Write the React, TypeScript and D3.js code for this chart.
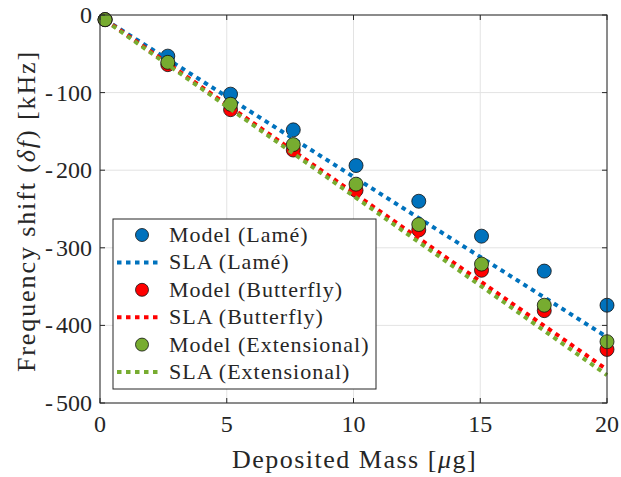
import React from "react";
import * as d3 from "d3";

// deposited mass [ug]
const massValues = [0.2, 2.675, 5.15, 7.625, 10.1, 12.575, 15.05, 17.525, 20];

// model frequency shifts [kHz]
const modelLame = [-6, -53, -102, -148, -194, -240, -285, -330, -374];
const modelButterfly = [-6, -64, -122, -174, -226, -277, -329, -381, -431];
const modelExtensional = [-6, -61, -115, -167, -218, -270, -321, -374, -421];

// SLA lines (straight, start and end)
const slaMass = [0.2, 20];
const slaLame = [-6, -415];
const slaButterfly = [-6, -457];
const slaExtensional = [-7, -464];

const xTicks = [0, 5, 10, 15, 20];
const yTicks = [0, -100, -200, -300, -400, -500];

const legendLabels = [
  "Model (Lamé)",
  "SLA (Lamé)",
  "Model (Butterfly)",
  "SLA (Butterfly)",
  "Model (Extensional)",
  "SLA (Extensional)",
];

const colors = { lame: "#0072BD", butterfly: "#FF0000", extensional: "#77AC30" };

const W = 621;
const H = 477;
const margin = { left: 100, top: 15, right: 14, bottom: 74 };
const font = "'Liberation Serif', 'Times New Roman', serif";
const axisColor = "#262626";

export default function App() {
  const x = d3.scaleLinear().domain([0, 20]).range([margin.left, W - margin.right]);
  const y = d3.scaleLinear().domain([0, -500]).range([margin.top, H - margin.bottom]);
  const line = d3
    .line<number>()
    .x((_, i) => x(slaMass[i]))
    .y((d) => y(d));

  const series = [
    { model: modelLame, sla: slaLame, color: colors.lame },
    { model: modelButterfly, sla: slaButterfly, color: colors.butterfly },
    { model: modelExtensional, sla: slaExtensional, color: colors.extensional },
  ];

  const [x0, x1] = x.range();
  const [y0, y1] = y.range();

  const legend = { x: 113, y: 219, w: 263, h: 170, row: 27.4 };

  return (
    <svg width={W} height={H} style={{ position: "absolute", left: 0, top: 0 }}>
      <rect width={W} height={H} fill="#fff" />
      {/* grid */}
      {xTicks.map((t) => (
        <line key={"gx" + t} x1={x(t)} x2={x(t)} y1={y0} y2={y1} stroke="#e3e3e3" strokeWidth={1} />
      ))}
      {yTicks.map((t) => (
        <line key={"gy" + t} x1={x0} x2={x1} y1={y(t)} y2={y(t)} stroke="#e3e3e3" strokeWidth={1} />
      ))}

      {/* data */}
      {series.map((s, k) => (
        <g key={k}>
          {s.model.map((v, i) => (
            <circle key={i} cx={x(massValues[i])} cy={y(v)} r={7} fill={s.color} stroke="#111" strokeWidth={0.8} />
          ))}
          <path d={line(s.sla) ?? ""} fill="none" stroke={s.color} strokeWidth={4} strokeDasharray="4.5 4.5" />
        </g>
      ))}

      {/* axes box */}
      <rect x={x0} y={y0} width={x1 - x0} height={y1 - y0} fill="none" stroke={axisColor} strokeWidth={1} />
      {xTicks.map((t) => (
        <g key={"tx" + t}>
          <line x1={x(t)} x2={x(t)} y1={y1} y2={y1 - 5} stroke={axisColor} />
          <line x1={x(t)} x2={x(t)} y1={y0} y2={y0 + 5} stroke={axisColor} />
          <text x={x(t)} y={y1 + 29} textAnchor="middle" fontFamily={font} fontSize={24} fill={axisColor}>
            {t}
          </text>
        </g>
      ))}
      {yTicks.map((t) => (
        <g key={"ty" + t}>
          <line x1={x0} x2={x0 + 5} y1={y(t)} y2={y(t)} stroke={axisColor} />
          <line x1={x1} x2={x1 - 5} y1={y(t)} y2={y(t)} stroke={axisColor} />
          <text x={x0 - 8} y={y(t) + 8} textAnchor="end" fontFamily={font} fontSize={24} fill={axisColor}>
            {t < 0 ? (
              <>
                <tspan dx={0}>-</tspan>
                <tspan dx={3}>{Math.abs(t)}</tspan>
              </>
            ) : (
              t
            )}
          </text>
        </g>
      ))}

      {/* axis labels */}
      <text
        x={(x0 + x1) / 2 + 1}
        y={468}
        textAnchor="middle"
        fontFamily={font}
        fontSize={26}
        letterSpacing={1.5}
        fill={axisColor}
      >
        Deposited Mass [<tspan fontStyle="italic">μ</tspan>g]
      </text>
      <text
        transform={`translate(35, ${(y0 + y1) / 2 + 2}) rotate(-90)`}
        textAnchor="middle"
        fontFamily={font}
        fontSize={26}
        letterSpacing={1.9}
        fill={axisColor}
      >
        Frequency shift (<tspan fontStyle="italic">δf</tspan>) [kHz]
      </text>

      {/* legend */}
      <g>
        <rect x={legend.x} y={legend.y} width={legend.w} height={legend.h} fill="#fff" stroke={axisColor} strokeWidth={1} />
        {legendLabels.map((lab, i) => {
          const cy = legend.y + 16 + i * legend.row;
          const s = series[Math.floor(i / 2)];
          return (
            <g key={lab}>
              {i % 2 === 0 ? (
                <circle cx={142} cy={cy} r={6.5} fill={s.color} stroke="#111" strokeWidth={0.8} />
              ) : (
                <line x1={117} x2={161} y1={cy} y2={cy} stroke={s.color} strokeWidth={4} strokeDasharray="4.5 4.5" />
              )}
              <text x={169} y={cy + 7} fontFamily={font} fontSize={22} letterSpacing={1} fill={axisColor}>
                {lab}
              </text>
            </g>
          );
        })}
      </g>
    </svg>
  );
}
